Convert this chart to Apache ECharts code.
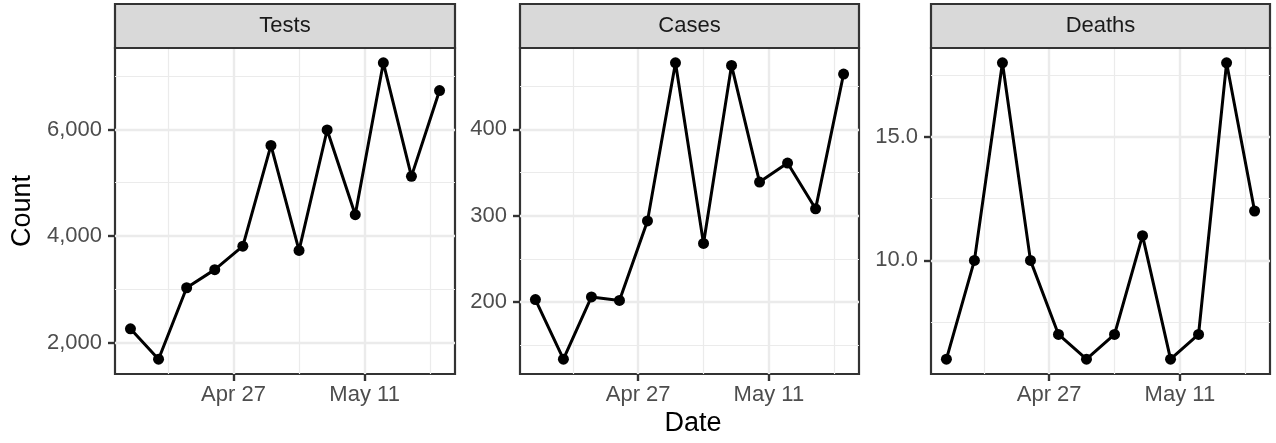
<!DOCTYPE html>
<html>
<head>
<meta charset="utf-8">
<script src="https://cdn.jsdelivr.net/npm/echarts@6/dist/echarts.min.js"></script>
<style>
html,body{margin:0;padding:0;background:#fff;}
#chart{width:1276px;height:443px;}
</style>
</head>
<body>
<div id="chart"></div>
<script>
// ---- data ----
const dates = ['2020-04-16','2020-04-19','2020-04-22','2020-04-25','2020-04-28','2020-05-01',
               '2020-05-04','2020-05-07','2020-05-10','2020-05-13','2020-05-16','2020-05-19'];
const tests  = [2260, 1690, 3030, 3370, 3810, 5700, 3730, 5990, 4400, 7250, 5120, 6730];
const cases  = [203, 134, 206, 202, 294, 477, 268, 474, 339, 361, 308, 464];
const deaths = [6, 10, 18, 10, 7, 6, 7, 11, 6, 7, 18, 12];
const panelTitles = ['Tests', 'Cases', 'Deaths'];
const xMajorTicks = ['2020-04-27', '2020-05-11'];
const xMinorTicks = ['2020-04-20', '2020-05-04', '2020-05-18'];
const yMajorTests = [2000, 4000, 6000];
const yMinorTests = [3000, 5000, 7000];
const yMajorCases = [200, 300, 400];
const yMinorCases = [150, 250, 350, 450];
const yMajorDeaths = [10, 15];
const yMinorDeaths = [7.5, 12.5, 17.5];

// ---- helpers ----
const DAY = 86400000;
const toDay = s => Date.parse(s + 'T00:00:00Z') / DAY;
const MONTHS = ['Jan','Feb','Mar','Apr','May','Jun','Jul','Aug','Sep','Oct','Nov','Dec'];
const fmtDate = v => { const d = new Date(Math.round(v) * DAY); return MONTHS[d.getUTCMonth()] + ' ' + d.getUTCDate(); };
const expand = arr => { const mn = Math.min(...arr), mx = Math.max(...arr), r = mx - mn; return [mn - 0.05 * r, mx + 0.05 * r]; };

const xs = dates.map(toDay);
const [xMin, xMax] = expand(xs);
const FONT = 'Liberation Sans, Arial, Helvetica, sans-serif';

const panels = [
  { title: panelTitles[0], values: tests,  major: yMajorTests,  minor: yMinorTests,
    fmt: v => v.toLocaleString('en-US'), left: 115, width: 340 },
  { title: panelTitles[1], values: cases,  major: yMajorCases,  minor: yMinorCases,
    fmt: v => String(v), left: 520, width: 339 },
  { title: panelTitles[2], values: deaths, major: yMajorDeaths, minor: yMinorDeaths,
    fmt: v => v.toFixed(1), left: 931, width: 339 }
];
const TOP = 48, HEIGHT = 326;

const grid = [], xAxis = [], yAxis = [], series = [], graphic = [];
const tickStyle = { color: '#333333', width: 2.4 };
const majorGrid = { color: '#EBEBEB', width: 2.4 };
const minorGrid = { color: '#EBEBEB', width: 1.2 };
const labelBase = { fontSize: 22, color: '#4D4D4D', fontFamily: FONT };

panels.forEach((p, i) => {
  const [yMin, yMax] = expand(p.values);
  grid.push({ left: p.left, top: TOP, width: p.width, height: HEIGHT, show: true,
              backgroundColor: '#FFFFFF', borderColor: '#333333', borderWidth: 2.2 });
  // major x axis
  xAxis.push({ type: 'value', gridIndex: i, min: xMin, max: xMax, position: 'bottom',
    axisLine: { show: false },
    axisTick: { show: true, customValues: xMajorTicks.map(toDay), length: 7, lineStyle: tickStyle },
    axisLabel: Object.assign({ customValues: xMajorTicks.map(toDay), formatter: fmtDate, margin: 10 }, labelBase),
    splitLine: { show: true, lineStyle: majorGrid } });
  // minor x axis (grid lines only)
  xAxis.push({ type: 'value', gridIndex: i, min: xMin, max: xMax, position: 'top',
    axisLine: { show: false },
    axisTick: { show: false, customValues: xMinorTicks.map(toDay) },
    axisLabel: { show: false, customValues: xMinorTicks.map(toDay) },
    splitLine: { show: true, lineStyle: minorGrid } });
  // major y axis
  yAxis.push({ type: 'value', gridIndex: i, min: yMin, max: yMax, position: 'left',
    axisLine: { show: false },
    axisTick: { show: true, customValues: p.major, length: 7, lineStyle: tickStyle },
    axisLabel: Object.assign({ customValues: p.major, formatter: p.fmt, margin: 13 }, labelBase),
    splitLine: { show: true, lineStyle: majorGrid } });
  // minor y axis
  yAxis.push({ type: 'value', gridIndex: i, min: yMin, max: yMax, position: 'right',
    axisLine: { show: false },
    axisTick: { show: false, customValues: p.minor },
    axisLabel: { show: false, customValues: p.minor },
    splitLine: { show: true, lineStyle: minorGrid } });

  series.push({ type: 'line', xAxisIndex: 2 * i, yAxisIndex: 2 * i,
    data: xs.map((x, k) => [x, p.values[k]]),
    symbol: 'circle', symbolSize: 11, showSymbol: true,
    itemStyle: { color: '#000000' }, lineStyle: { color: '#000000', width: 3 },
    z: 5, animation: false });

  // strip
  graphic.push({ type: 'rect', shape: { x: p.left, y: 4, width: p.width, height: TOP - 4 },
    style: { fill: '#D9D9D9', stroke: '#333333', lineWidth: 2.2 }, z: 10 });
  graphic.push({ type: 'text', x: p.left + p.width / 2, y: 26,
    style: { text: p.title, font: '22px ' + FONT, fill: '#1A1A1A', align: 'center', verticalAlign: 'middle' }, z: 11 });
});

graphic.push({ type: 'text', x: 23, y: TOP + HEIGHT / 2, rotation: Math.PI / 2,
  style: { text: 'Count', font: '27px ' + FONT, fill: '#000000', align: 'center', verticalAlign: 'middle' } });
graphic.push({ type: 'text', x: 693, y: 424,
  style: { text: 'Date', font: '27px ' + FONT, fill: '#000000', align: 'center', verticalAlign: 'middle' } });

const chart = echarts.init(document.getElementById('chart'), null, { renderer: 'canvas' });
chart.setOption({ animation: false, backgroundColor: '#FFFFFF', grid, xAxis, yAxis, series, graphic });
</script>
</body>
</html>
